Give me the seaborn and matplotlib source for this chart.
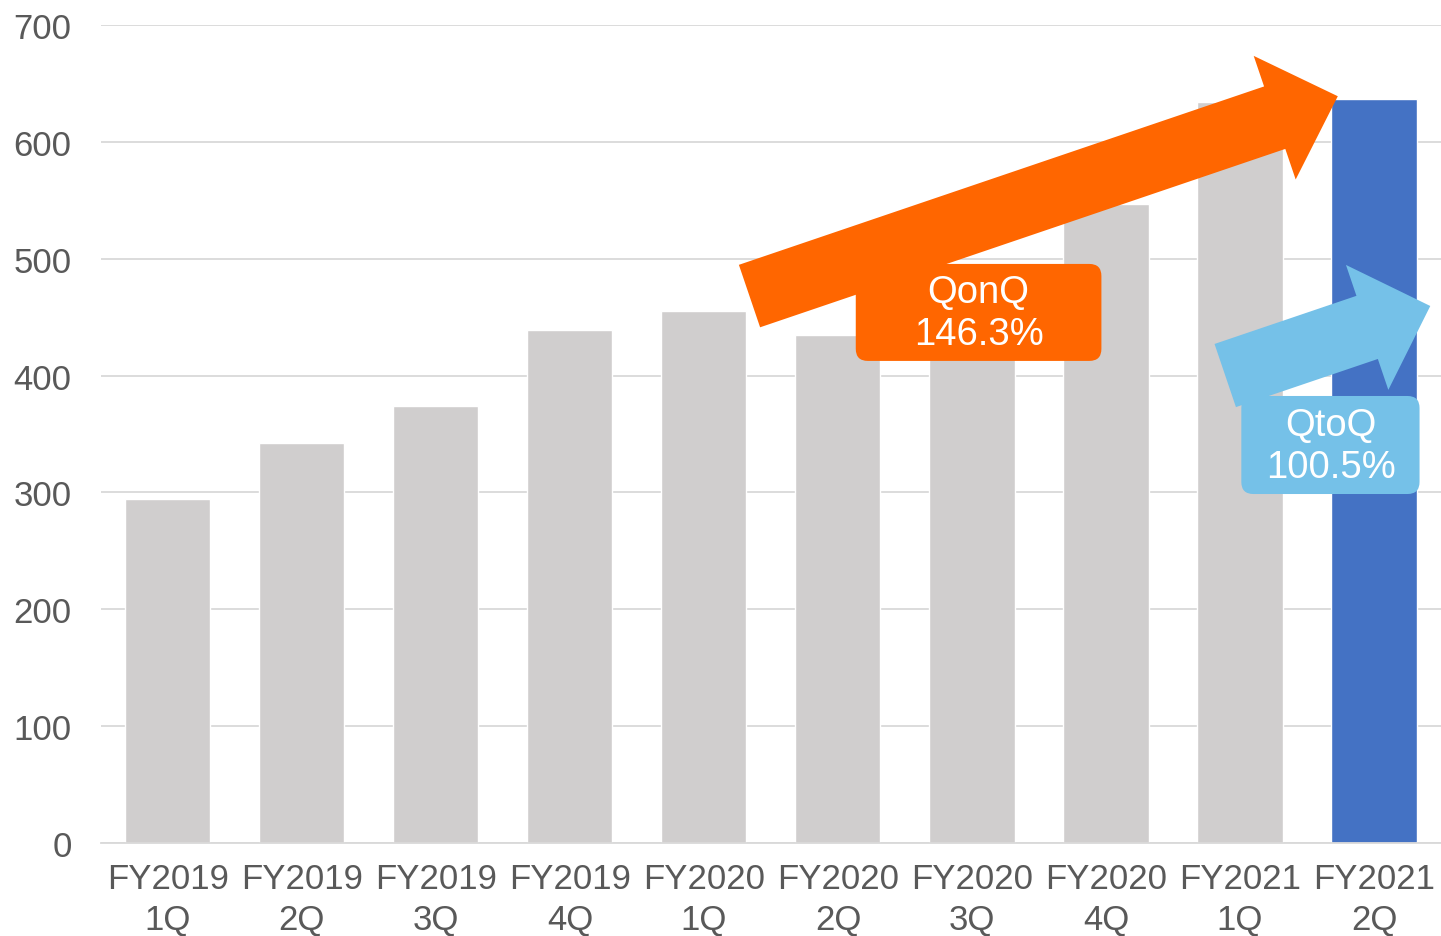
import numpy as np
import pandas as pd
import matplotlib
matplotlib.use('Agg')
import matplotlib.pyplot as plt
import seaborn as sns
from matplotlib.patches import FancyArrowPatch, FancyBboxPatch, ArrowStyle

sns.set_theme(style='white')
plt.rcParams['font.family'] = ['Liberation Sans', 'DejaVu Sans']

# ---------------------------------------------------------
# Data
# ---------------------------------------------------------
quarters = ['FY2019\n1Q', 'FY2019\n2Q', 'FY2019\n3Q', 'FY2019\n4Q', 'FY2020\n1Q',
            'FY2020\n2Q', 'FY2020\n3Q', 'FY2020\n4Q', 'FY2021\n1Q', 'FY2021\n2Q']
values = [294, 342, 374, 439, 455, 435, 470, 547, 634, 637]
bar_colors = ['#D0CECE'] * 9 + ['#4472C4']
y_ticks = [0, 100, 200, 300, 400, 500, 600, 700]

qonq_label = 'QonQ\n146.3%'
qtoq_label = 'QtoQ\n100.5%'

df = pd.DataFrame({'quarter': quarters, 'value': values})

# ---------------------------------------------------------
# Figure
# ---------------------------------------------------------
fig = plt.figure(figsize=(14.41, 9.37), dpi=100)
ax = fig.add_axes([0.070, 0.0993, 0.930, 0.8730])

sns.barplot(data=df, x='quarter', y='value', hue='quarter', palette=bar_colors,
            legend=False, width=0.635, saturation=1, ax=ax, zorder=2)

ax.set_xlim(-0.5, 9.5)
ax.set_ylim(0, 700)
ax.set_yticks(y_ticks)
ax.set_yticklabels([str(t) for t in y_ticks])
ax.set_xlabel('')
ax.set_ylabel('')
ax.grid(axis='y', color='#D9D9D9', linewidth=1.3, zorder=0)
ax.set_axisbelow(True)
for s in ['left', 'right', 'top']:
    ax.spines[s].set_visible(False)
ax.spines['bottom'].set_color('#D9D9D9')
ax.spines['bottom'].set_linewidth(1.3)
ax.tick_params(axis='y', length=0, pad=21, labelsize=25, labelcolor='#595959')
ax.tick_params(axis='x', length=0, pad=14, labelsize=25, labelcolor='#595959')
for lbl in ax.get_xticklabels():
    lbl.set_linespacing(1.3)

# ---------------------------------------------------------
# Arrows + callouts
# ---------------------------------------------------------
# px per data unit: x ~134.2, y ~1.1686 -> aspect for rounded boxes
aspect = 134.2 / 1.1686

orange = '#FF6600'
light_blue = '#75C1E8'

arr1 = FancyArrowPatch((4.34, 468), (8.73, 639),
                       arrowstyle=ArrowStyle.Simple(head_length=48, head_width=94, tail_width=47.5),
                       mutation_scale=1, shrinkA=0, shrinkB=0,
                       color=orange, linewidth=0, zorder=5)
ax.add_patch(arr1)

arr2 = FancyArrowPatch((7.89, 400), (9.42, 459.5),
                       arrowstyle=ArrowStyle.Simple(head_length=48, head_width=95, tail_width=48),
                       mutation_scale=1, shrinkA=0, shrinkB=0,
                       color=light_blue, linewidth=0, zorder=5)
ax.add_patch(arr2)

box1 = FancyBboxPatch((5.133, 412.5), 6.966 - 5.133, 495.5 - 412.5,
                      boxstyle='round,pad=0,rounding_size=0.09',
                      mutation_aspect=aspect, facecolor=orange, edgecolor='none',
                      zorder=6, clip_on=False)
ax.add_patch(box1)
ax.text(6.05, 453.5, qonq_label, ha='center', va='center', fontsize=27.5,
        color='white', linespacing=1.22, zorder=7)

box2 = FancyBboxPatch((8.01, 298.6), 9.34 - 8.01, 382.5 - 298.6,
                      boxstyle='round,pad=0,rounding_size=0.09',
                      mutation_aspect=aspect, facecolor=light_blue, edgecolor='none',
                      zorder=6, clip_on=False)
ax.add_patch(box2)
ax.text(8.68, 339.5, qtoq_label, ha='center', va='center', fontsize=27.5,
        color='white', linespacing=1.22, zorder=7)

fig.savefig('out.png', dpi=100)
